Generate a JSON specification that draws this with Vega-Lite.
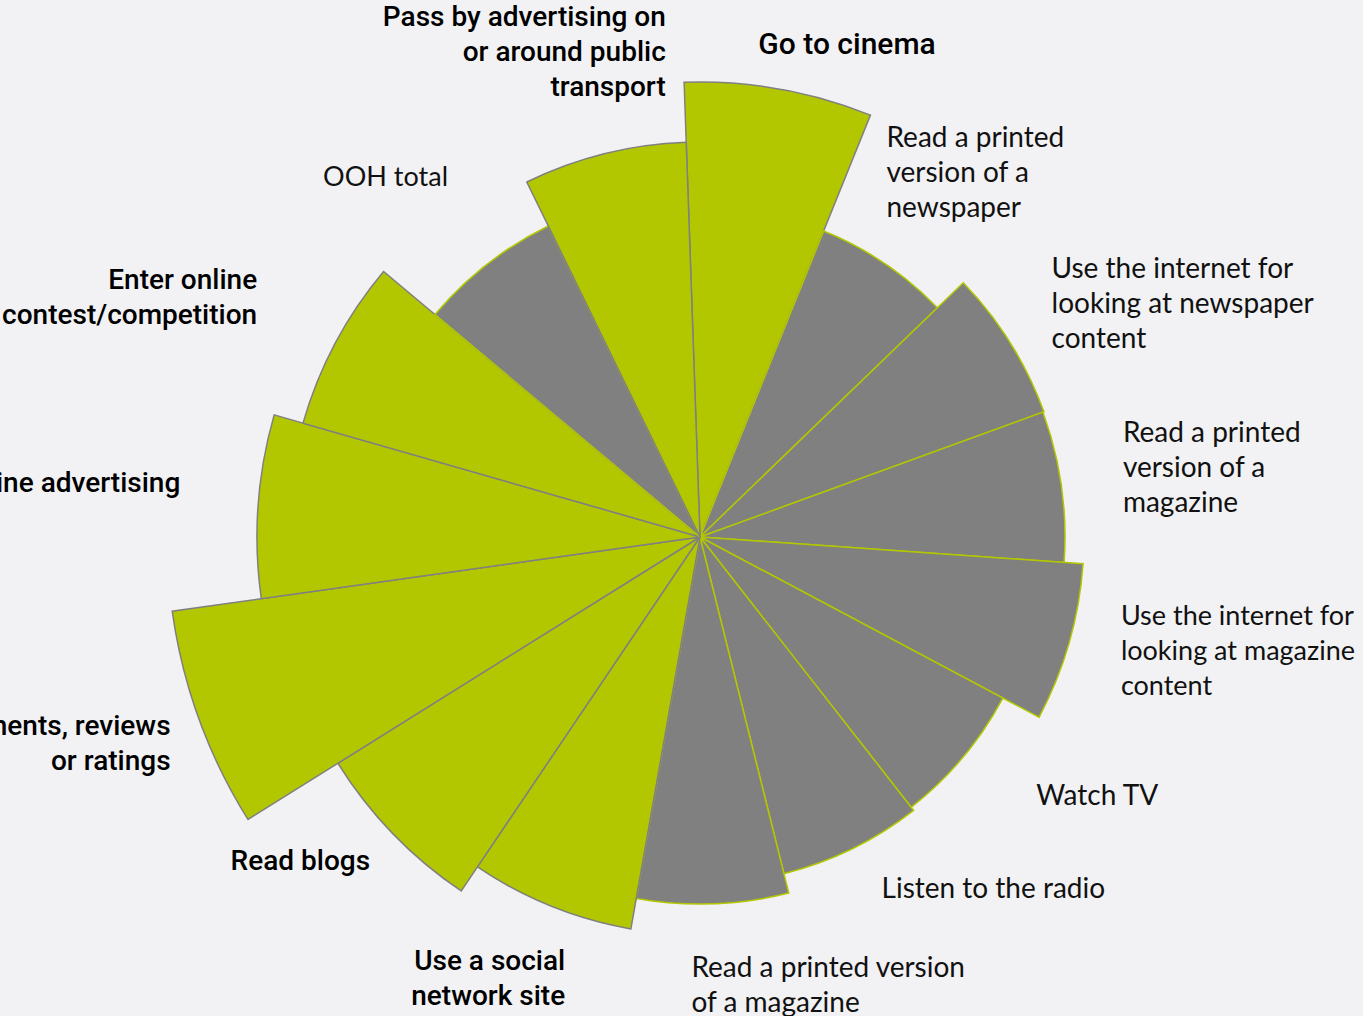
{
  "$schema": "https://vega.github.io/schema/vega-lite/v6.json",
  "width": 1326,
  "height": 958,
  "autosize": {"type": "none"},
  "padding": {"left": 37, "top": 58, "right": 0, "bottom": 0},
  "background": "#f2f2f4",
  "config": {"view": {"stroke": null}},
  "data": {
    "values": [
      {"rank": 1, "activity": "Go to cinema", "label": ["Go to cinema"], "group": "highlighted", "share": 1, "value": 91},
      {"rank": 2, "activity": "Read a printed version of a newspaper", "label": ["Read a printed", "version of a", "newspaper"], "group": "other", "share": 1, "value": 66},
      {"rank": 3, "activity": "Use the internet for looking at newspaper content", "label": ["Use the internet for", "looking at newspaper", "content"], "group": "other", "share": 1, "value": 73.2},
      {"rank": 4, "activity": "Read a printed version of a magazine", "label": ["Read a printed", "version of a", "magazine"], "group": "other", "share": 1, "value": 73},
      {"rank": 5, "activity": "Use the internet for looking at magazine content", "label": ["Use the internet for", "looking at magazine", "content"], "group": "other", "share": 1, "value": 76.8},
      {"rank": 6, "activity": "Watch TV", "label": ["Watch TV"], "group": "other", "share": 1, "value": 68.6},
      {"rank": 7, "activity": "Listen to the radio", "label": ["Listen to the radio"], "group": "other", "share": 1, "value": 69.4},
      {"rank": 8, "activity": "Read a printed version of a magazine", "label": ["Read a printed version", "of a magazine"], "group": "other", "share": 1, "value": 73.4},
      {"rank": 9, "activity": "Use a social network site", "label": ["Use a social", "network site"], "group": "highlighted", "share": 1, "value": 79.6},
      {"rank": 10, "activity": "Read blogs", "label": ["Read blogs"], "group": "highlighted", "share": 1, "value": 85.4},
      {"rank": 11, "activity": "Post comments, reviews or ratings", "label": ["Post comments, reviews", "or ratings"], "group": "highlighted", "share": 1, "value": 106.6},
      {"rank": 12, "activity": "Click on online advertising", "label": ["Click on online advertising"], "group": "highlighted", "share": 1, "value": 88.6},
      {"rank": 13, "activity": "Enter online contest/competition", "label": ["Enter online", "contest/competition"], "group": "highlighted", "share": 1, "value": 82.6},
      {"rank": 14, "activity": "OOH total", "label": ["OOH total"], "group": "other", "share": 1, "value": 69.2},
      {"rank": 15, "activity": "Pass by advertising on or around public transport", "label": ["Pass by advertising on", "or around public", "transport"], "group": "highlighted", "share": 1, "value": 79}
    ]
  },
  "transform": [
    {"stack": "share", "groupby": [], "sort": [{"field": "rank", "order": "ascending"}], "as": ["t0", "t1"]}
  ],
  "encoding": {
    "theta": {"field": "t0", "type": "quantitative", "scale": {"domain": [0, 15], "range": [-0.0349, 6.2483]}},
    "radius": {"field": "value", "type": "quantitative", "scale": {"type": "linear", "zero": true, "domain": [0, 120], "range": [0, 600]}}
  },
  "layer": [
    {
      "mark": {"type": "arc", "strokeWidth": 1.5},
      "encoding": {
        "theta2": {"field": "t1"},
        "color": {"field": "group", "type": "nominal", "legend": null, "scale": {"domain": ["highlighted", "other"], "range": ["#b3c700", "#808080"]}},
        "stroke": {"field": "group", "type": "nominal", "legend": null, "scale": {"domain": ["highlighted", "other"], "range": ["#808080", "#b3c700"]}}
      }
    },
    {
      "mark": {"type": "text", "font": "Roboto", "fontWeight": 500, "fontSize": 30, "lineHeight": 35, "color": "#000000", "align": "left", "baseline": "bottom", "thetaOffset": 0.2094, "radiusOffset": 25, "dx": -25, "dy": -4},
      "encoding": {"text": {"condition": {"test": "datum.rank == 1", "field": "label", "type": "nominal"}, "value": ""}}
    },
    {
      "mark": {"type": "text", "font": "Roboto", "fontWeight": 500, "fontSize": 28, "lineHeight": 35, "color": "#000000", "align": "right", "baseline": "top", "thetaOffset": 0.2094, "radiusOffset": 42, "dx": 30, "dy": 3},
      "encoding": {"text": {"condition": {"test": "datum.rank == 9", "field": "label", "type": "nominal"}, "value": ""}}
    },
    {
      "mark": {"type": "text", "font": "Roboto", "fontWeight": 500, "fontSize": 28, "lineHeight": 35, "color": "#000000", "align": "right", "baseline": "middle", "thetaOffset": 0.2094, "radiusOffset": 40, "dx": 6, "dy": 1},
      "encoding": {"text": {"condition": {"test": "datum.rank == 10", "field": "label", "type": "nominal"}, "value": ""}}
    },
    {
      "mark": {"type": "text", "font": "Roboto", "fontWeight": 500, "fontSize": 28, "lineHeight": 35, "color": "#000000", "align": "right", "baseline": "middle", "thetaOffset": 0.2094, "radiusOffset": 40, "dx": 9, "dy": -6},
      "encoding": {"text": {"condition": {"test": "datum.rank == 11", "field": "label", "type": "nominal"}, "value": ""}}
    },
    {
      "mark": {"type": "text", "font": "Roboto", "fontWeight": 500, "fontSize": 28, "lineHeight": 35, "color": "#000000", "align": "right", "baseline": "middle", "thetaOffset": 0.2094, "radiusOffset": 84, "dx": 6, "dy": -16},
      "encoding": {"text": {"condition": {"test": "datum.rank == 12", "field": "label", "type": "nominal"}, "value": ""}}
    },
    {
      "mark": {"type": "text", "font": "Roboto", "fontWeight": 500, "fontSize": 28, "lineHeight": 35, "color": "#000000", "align": "right", "baseline": "middle", "thetaOffset": 0.2094, "radiusOffset": 84, "dx": -4, "dy": -23},
      "encoding": {"text": {"condition": {"test": "datum.rank == 13", "field": "label", "type": "nominal"}, "value": ""}}
    },
    {
      "mark": {"type": "text", "font": "Roboto", "fontWeight": 500, "fontSize": 28, "lineHeight": 35, "color": "#000000", "align": "right", "baseline": "middle", "thetaOffset": 0.2094, "radiusOffset": 106, "dx": 87, "dy": -33},
      "encoding": {"text": {"condition": {"test": "datum.rank == 15", "field": "label", "type": "nominal"}, "value": ""}}
    },
    {
      "mark": {"type": "text", "font": "Lato", "fontSize": 28, "lineHeight": 35, "color": "#111111", "align": "left", "baseline": "bottom", "thetaOffset": 0.2094, "radiusOffset": 50, "dx": -26, "dy": -69},
      "encoding": {"text": {"condition": {"test": "datum.rank == 2", "field": "label", "type": "nominal"}, "value": ""}}
    },
    {
      "mark": {"type": "text", "font": "Lato", "fontSize": 28, "lineHeight": 35, "color": "#111111", "align": "left", "baseline": "middle", "thetaOffset": 0.2094, "radiusOffset": 58, "dx": -8, "dy": -42},
      "encoding": {"text": {"condition": {"test": "datum.rank == 3", "field": "label", "type": "nominal"}, "value": ""}}
    },
    {
      "mark": {"type": "text", "font": "Lato", "fontSize": 28, "lineHeight": 35, "color": "#111111", "align": "left", "baseline": "middle", "thetaOffset": 0.2094, "radiusOffset": 58, "dx": 4, "dy": -44},
      "encoding": {"text": {"condition": {"test": "datum.rank == 4", "field": "label", "type": "nominal"}, "value": ""}}
    },
    {
      "mark": {"type": "text", "font": "Lato", "fontSize": 27, "lineHeight": 35, "color": "#111111", "align": "left", "baseline": "middle", "thetaOffset": 0.2094, "radiusOffset": 58, "dx": -4, "dy": -42},
      "encoding": {"text": {"condition": {"test": "datum.rank == 5", "field": "label", "type": "nominal"}, "value": ""}}
    },
    {
      "mark": {"type": "text", "font": "Lato", "fontSize": 28, "lineHeight": 35, "color": "#111111", "align": "left", "baseline": "middle", "thetaOffset": 0.2094, "radiusOffset": 58, "dx": 29, "dy": 2},
      "encoding": {"text": {"condition": {"test": "datum.rank == 6", "field": "label", "type": "nominal"}, "value": ""}}
    },
    {
      "mark": {"type": "text", "font": "Lato", "fontSize": 28, "lineHeight": 35, "color": "#111111", "align": "left", "baseline": "middle", "thetaOffset": 0.2094, "radiusOffset": 58, "dx": 4, "dy": -11},
      "encoding": {"text": {"condition": {"test": "datum.rank == 7", "field": "label", "type": "nominal"}, "value": ""}}
    },
    {
      "mark": {"type": "text", "font": "Lato", "fontSize": 28, "lineHeight": 35, "color": "#111111", "align": "left", "baseline": "top", "thetaOffset": 0.2094, "radiusOffset": 46, "dx": -23, "dy": 5},
      "encoding": {"text": {"condition": {"test": "datum.rank == 8", "field": "label", "type": "nominal"}, "value": ""}}
    },
    {
      "mark": {"type": "text", "font": "Lato", "fontSize": 27, "lineHeight": 35, "color": "#111111", "align": "right", "baseline": "middle", "thetaOffset": 0.2094, "radiusOffset": 112, "dx": 30, "dy": 2},
      "encoding": {"text": {"condition": {"test": "datum.rank == 14", "field": "label", "type": "nominal"}, "value": ""}}
    }
  ]
}
